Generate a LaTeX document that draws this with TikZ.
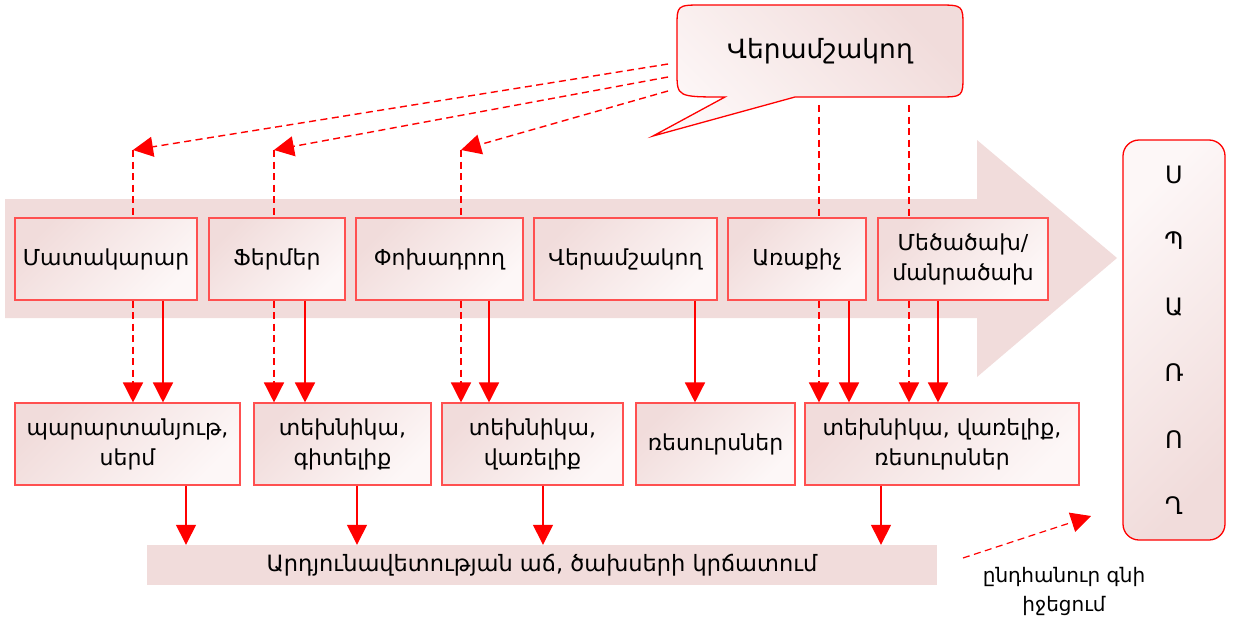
\documentclass[tikz,border=0pt]{standalone}
\usepackage{fontspec}
\setmainfont{DejaVu Sans}
\usetikzlibrary{arrows.meta}
\definecolor{pk}{RGB}{241,220,219}
\definecolor{pkl}{RGB}{253,247,247}
\definecolor{bd}{RGB}{255,80,80}
\definecolor{rd}{RGB}{255,0,0}
\tikzset{
  box/.style={draw=bd, line width=1.1pt, top color=pk, bottom color=pkl, shading angle=45,
    inner sep=0pt, align=center, font=\fontsize{22}{30}\selectfont, minimum height=82pt},
  tip/.style={-{Triangle[length=20pt,width=20pt]}},
  sarr/.style={draw=rd, line width=1.4pt, tip},
  darr/.style={draw=rd, line width=1.4pt, dash pattern=on 7pt off 4.5pt, tip},
  dline/.style={draw=rd, line width=1.4pt, dash pattern=on 7pt off 4.5pt},
}
\begin{document}
\begin{tikzpicture}[x=1pt,y=-1pt]
\useasboundingbox (0,0) rectangle (1234,621);
% big arrow
\fill[pk] (5,199) -- (977,199) -- (977,140) -- (1117,258) -- (977,377) -- (977,318) -- (5,318) -- cycle;
% bubble
\draw[draw=rd, line width=1.3pt, top color=pk, bottom color=pkl, shading angle=-45]
  (677,27) .. controls (677,5) .. (703,5) -- (937,5) .. controls (963,5) .. (963,27)
  -- (963,75) .. controls (963,97) .. (937,97) -- (795,97) -- (653,136) -- (725,97)
  .. controls (677,97) .. (677,72) -- cycle;
\node[font=\fontsize{26.5}{30}\selectfont] (bub) at (820,51) {Վերամշակող};
% top boxes
\node[box, minimum width=182pt] (m1) at (106,259) {Մատակարար};
\node[box, minimum width=136pt] (m2) at (277,259) {Ֆերմեր};
\node[box, minimum width=167pt] (m3) at (439.5,259) {Փոխադրող};
\node[box, minimum width=183pt] (m4) at (625.5,259) {Վերամշակող};
\node[box, minimum width=138pt] (m5) at (797,259) {Առաքիչ};
\node[box, minimum width=170pt] (m6) at (963,259) {Մեծածախ/\\մանրածախ};
% lower boxes
\node[box, minimum width=225pt] (l1) at (127.5,444) {պարարտանյութ,\\սերմ};
\node[box, minimum width=177pt] (l2) at (342.5,444) {տեխնիկա,\\գիտելիք};
\node[box, minimum width=181pt] (l3) at (532.5,444) {տեխնիկա,\\վառելիք};
\node[box, minimum width=159pt] (l4) at (715.5,444) {ռեսուրսներ};
\node[box, minimum width=274pt] (l5) at (942,444) {տեխնիկա, վառելիք,\\ռեսուրսներ};
% band
\node[fill=pk, minimum width=790pt, minimum height=40pt, inner sep=0pt, font=\fontsize{22.5}{26}\selectfont] (band) at (542,565) {Արդյունավետության աճ, ծախսերի կրճատում};
% consumer
\node[draw=rd, line width=1.3pt, rounded corners=16pt, top color=pkl, bottom color=pk, shading angle=45,
  minimum width=102pt, minimum height=400pt, inner sep=0pt, align=center,
  font=\fontsize{24}{66.2}\selectfont] (sp) at (1174,340) {Ս\\Պ\\Ա\\Ռ\\Ո\\Ղ};
\node[align=center, font=\fontsize{20}{29}\selectfont] (lab) at (1064,591) {ընդհանուր գնի\\իջեցում};
% coordinates
\coordinate (b1) at (668,64);
\coordinate (b2) at (668,77);
\coordinate (b3) at (668,91);
\coordinate (k1) at (133,150);
\coordinate (k2) at (274,150);
\coordinate (k3) at (461,150);
\coordinate (k5) at (819,105);
\coordinate (k6) at (909,105);
\coordinate (s1) at (163,0);
\coordinate (s2) at (305,0);
\coordinate (s3) at (489,0);
\coordinate (s4) at (695,0);
\coordinate (s5) at (849,0);
\coordinate (s6) at (938,0);
\coordinate (t1) at (186,0);
\coordinate (t2) at (357,0);
\coordinate (t3) at (543,0);
\coordinate (t5) at (881,0);
\coordinate (p1) at (963,558);
\coordinate (p2) at (1091,516);
% dashed from bubble
\draw[darr] (b1) -- (k1);
\draw[darr] (b2) -- (k2);
\draw[darr] (b3) -- (k3);
\draw[dline] (k1) -- (k1 |- m1.north);
\draw[dline] (k2) -- (k2 |- m2.north);
\draw[dline] (k3) -- (k3 |- m3.north);
\draw[dline] (k5) -- (k5 |- m5.north);
\draw[dline] (k6) -- (k6 |- m6.north);
% dashed down
\draw[darr] (k1 |- m1.south) -- (k1 |- l1.north);
\draw[darr] (k2 |- m2.south) -- (k2 |- l2.north);
\draw[darr] (k3 |- m3.south) -- (k3 |- l3.north);
\draw[darr] (k5 |- m5.south) -- (k5 |- l5.north);
\draw[darr] (k6 |- m6.south) -- (k6 |- l5.north);
% solid down
\draw[sarr] (m1.south -| s1) -- (l1.north -| s1);
\draw[sarr] (m2.south -| s2) -- (l2.north -| s2);
\draw[sarr] (m3.south -| s3) -- (l3.north -| s3);
\draw[sarr] (m4.south -| s4) -- (l4.north -| s4);
\draw[sarr] (m5.south -| s5) -- (l5.north -| s5);
\draw[sarr] (m6.south -| s6) -- (l5.north -| s6);
% to band
\draw[sarr] (l1.south -| t1) -- (band.north -| t1);
\draw[sarr] (l2.south -| t2) -- (band.north -| t2);
\draw[sarr] (l3.south -| t3) -- (band.north -| t3);
\draw[sarr] (l5.south -| t5) -- (band.north -| t5);
% to consumer
\draw[darr, line width=1.2pt] (p1) -- (p2);
\end{tikzpicture}
\end{document}
